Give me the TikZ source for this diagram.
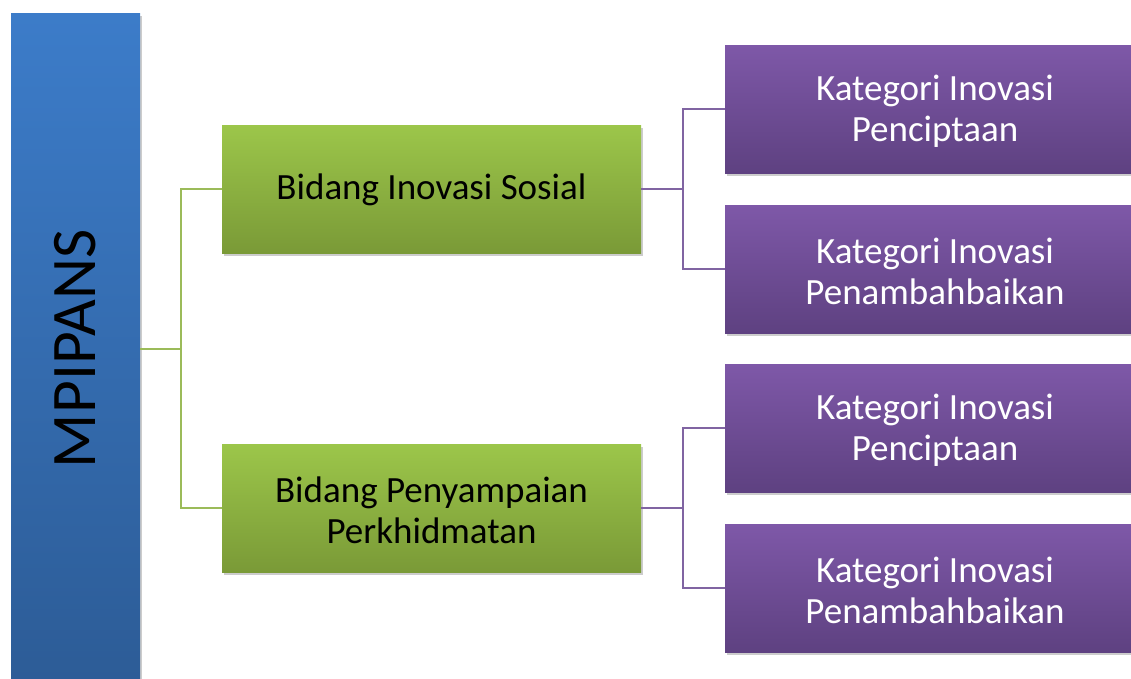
\documentclass[tikz,border=0pt]{standalone}
\usepackage{fontspec}
\setmainfont{Carlito}
\usetikzlibrary{shadows,calc}
\definecolor{blueT}{HTML}{3C7CC9}
\definecolor{blueB}{HTML}{2C5B95}
\definecolor{greenT}{HTML}{9CC64A}
\definecolor{greenB}{HTML}{7A9A37}
\definecolor{purpT}{HTML}{7E58A8}
\definecolor{purpB}{HTML}{5E4181}
\definecolor{greenL}{HTML}{9BBB59}
\definecolor{purpL}{HTML}{8064A2}
\tikzset{
  boxbase/.style={rectangle, inner sep=0pt, align=center,
    drop shadow={opacity=0.2, shadow xshift=2pt, shadow yshift=-3pt, fill=black}},
  bluebox/.style={boxbase, top color=blueT, bottom color=blueB, minimum width=129pt, minimum height=690pt},
  greenbox/.style={boxbase, top color=greenT, bottom color=greenB, minimum width=419pt, minimum height=128pt,
    font=\fontsize{37}{41}\selectfont, text=black},
  purpbox/.style={boxbase, top color=purpT, bottom color=purpB, minimum width=420pt, minimum height=128pt,
    font=\fontsize{37}{41}\selectfont, text=white},
  boxtext/.style={inner sep=0pt, align=center},
  gline/.style={draw=greenL, line width=2pt},
  pline/.style={draw=purpL, line width=2pt}
}
\begin{document}
\begin{tikzpicture}[x=1pt,y=-1pt]
\useasboundingbox (0,0) rectangle (1131,678);
\node[bluebox] (root) at (75.5,358) {};
\node[rotate=90, font=\fontsize{63.5}{70}\selectfont] (rootlabel) at (75.5,349) {MPIPANS};
\node[greenbox] (g1) at (431.5,189) {};
\node[boxtext, font=\fontsize{37}{41}\selectfont] (g1t) at (431.5,190) {Bidang Inovasi Sosial};
\node[greenbox] (g2) at (431.5,508) {};
\node[boxtext, font=\fontsize{37}{41}\selectfont] (g2t) at (431.5,510) {Bidang Penyampaian\\Perkhidmatan};
\node[purpbox] (p1) at (935,109) {};
\node[purpbox] (p2) at (935,269) {};
\node[purpbox] (p3) at (935,428) {};
\node[purpbox] (p4) at (935,588) {};
\node[boxtext, text=white, font=\fontsize{37}{41}\selectfont] (p1t) at (935,111) {Kategori Inovasi\\Penciptaan};
\node[boxtext, text=white, font=\fontsize{37}{41}\selectfont] (p2t) at (935,271) {Kategori Inovasi\\Penambahbaikan};
\node[boxtext, text=white, font=\fontsize{37}{41}\selectfont] (p3t) at (935,430) {Kategori Inovasi\\Penciptaan};
\node[boxtext, text=white, font=\fontsize{37}{41}\selectfont] (p4t) at (935,590) {Kategori Inovasi\\Penambahbaikan};
\coordinate (rj) at (181,349);
\draw[gline] (root.east |- rj) -- (rj) |- (g1.west);
\draw[gline] (rj) |- (g2.west);
\coordinate (j1) at (683,189);
\draw[pline] (g1.east) -- (j1) |- (p1.west);
\draw[pline] (j1) |- (p2.west);
\coordinate (j2) at (683,508);
\draw[pline] (g2.east) -- (j2) |- (p3.west);
\draw[pline] (j2) |- (p4.west);
\end{tikzpicture}
\end{document}
